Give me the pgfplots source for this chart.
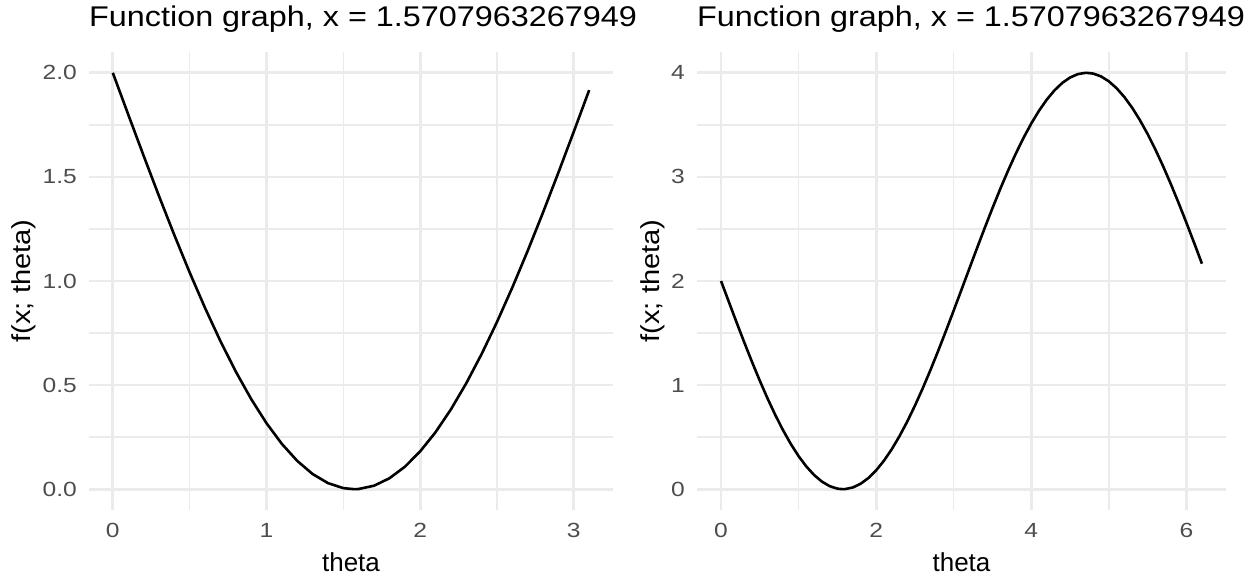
\documentclass[border=0pt]{standalone}
\usepackage{fontspec}
\setmainfont{Liberation Sans}
\newfontfamily\titlefont[FakeStretch=1.135]{Liberation Sans}
\newfontfamily\tickfont[FakeStretch=1.2]{Liberation Sans}
\newfontfamily\ylabfont[FakeStretch=1.12]{Liberation Sans}
\usepackage{pgfplots}
\pgfplotsset{compat=1.18}
\definecolor{gridgrey}{HTML}{EBEBEB}
\definecolor{tickgrey}{HTML}{4D4D4D}

% f(x; theta) sampled at x = pi/2
\pgfplotstableread{
t f
0.0 2.00000
0.1 1.80033
0.2 1.60266
0.3 1.40896
0.4 1.22116
0.5 1.04115
0.6 0.87072
0.7 0.71157
0.8 0.56529
0.9 0.43335
1.0 0.31706
1.1 0.21759
1.2 0.13592
1.3 0.07288
1.4 0.02910
1.5 0.00501
1.5708 0.00000
1.6 0.00085
1.7 0.01668
1.8 0.05230
1.9 0.10740
2.0 0.18141
2.1 0.27359
2.2 0.38300
2.3 0.50858
2.4 0.64908
2.5 0.80306
2.6 0.96900
2.7 1.14524
2.8 1.33003
2.9 1.52151
3.0 1.71776
3.1 1.91683
}\halfrange

\pgfplotstableread{
t f
0.0 2.00000
0.1 1.80033
0.2 1.60266
0.3 1.40896
0.4 1.22116
0.5 1.04115
0.6 0.87072
0.7 0.71157
0.8 0.56529
0.9 0.43335
1.0 0.31706
1.1 0.21759
1.2 0.13592
1.3 0.07288
1.4 0.02910
1.5 0.00501
1.5708 0.00000
1.6 0.00085
1.7 0.01668
1.8 0.05230
1.9 0.10740
2.0 0.18141
2.1 0.27359
2.2 0.38300
2.3 0.50858
2.4 0.64908
2.5 0.80306
2.6 0.96900
2.7 1.14524
2.8 1.33003
2.9 1.52151
3.0 1.71776
3.1 1.91683
3.2 2.11675
3.3 2.31550
3.4 2.51108
3.5 2.70156
3.6 2.88504
3.7 3.05968
3.8 3.22372
3.9 3.37554
4.0 3.51360
4.1 3.63656
4.2 3.74316
4.3 3.83234
4.4 3.90320
4.5 3.95506
4.6 3.98738
4.7 3.99984
4.7124 4.00000
4.8 3.99232
4.9 3.96490
5.0 3.91784
5.1 3.85162
5.2 3.76690
5.3 3.66454
5.4 3.54552
5.5 3.41108
5.6 3.26254
5.7 3.10138
5.8 2.92920
5.9 2.74776
6.0 2.55884
6.1 2.36432
6.2 2.16618
}\fullrange

\pgfplotsset{
  ggminimal/.style={
    scale only axis,
    axis line style={draw=none},
    major tick length=0pt,
    minor tick length=0pt,
    grid=both,
    major grid style={draw=gridgrey, line width=2.8pt},
    minor grid style={draw=gridgrey, line width=1.5pt},
    /pgf/number format/assume math mode=true,
    tick label style={font=\tickfont\fontsize{20.5}{24}\selectfont, text=tickgrey, inner sep=0pt},
    xticklabel style={anchor=base, yshift=-28pt},
    yticklabel style={anchor=east, xshift=-12pt},
    label style={inner sep=0pt},
    xlabel={theta},
    ylabel={f(x; theta)},
    xlabel style={at={(axis description cs:0.5,0)}, anchor=base, yshift=-62pt,
                  font=\fontsize{26}{30}\selectfont},
    ylabel style={font=\ylabfont\fontsize{26}{30}\selectfont},
    title={Function graph, x = 1.5707963267949},
    title style={at={(axis description cs:0,1)}, anchor=base west, yshift=19pt,
                 inner sep=0pt, font=\titlefont\fontsize{28.5}{32}\selectfont},
    clip=true,
  },
  curve/.style={black, line width=2.6pt, line join=round},
}

\begin{document}
\begin{tikzpicture}[x=1pt, y=1pt]
\path[use as bounding box] (0,0) rectangle (1256,577);

% left panel: theta in [0, pi]
\begin{axis}[ggminimal,
  at={(89pt,67pt)}, anchor=south west,
  width=524pt, height=458pt,
  xmin=-0.155, xmax=3.255, ymin=-0.1, ymax=2.1,
  xtick={0,1,2,3}, minor xtick={0.5,1.5,2.5},
  ytick={0,0.5,1,1.5,2}, minor ytick={0.25,0.75,1.25,1.75},
  yticklabel style={/pgf/number format/.cd, fixed, fixed zerofill, precision=1},
  ylabel style={at={(axis description cs:-0.112,0.5)}, anchor=base},
]
\addplot[curve] table[x=t, y=f] {\halfrange};
\end{axis}

% right panel: theta in [0, 2 pi]
\begin{axis}[ggminimal,
  at={(697pt,67pt)}, anchor=south west,
  width=529pt, height=458pt,
  xmin=-0.31, xmax=6.51, ymin=-0.2, ymax=4.2,
  xtick={0,2,4,6}, minor xtick={1,3,5},
  ytick={0,1,2,3,4}, minor ytick={0.5,1.5,2.5,3.5},
  ylabel style={at={(axis description cs:-0.071,0.5)}, anchor=base},
]
\addplot[curve] table[x=t, y=f] {\fullrange};
\end{axis}
\end{tikzpicture}
\end{document}
